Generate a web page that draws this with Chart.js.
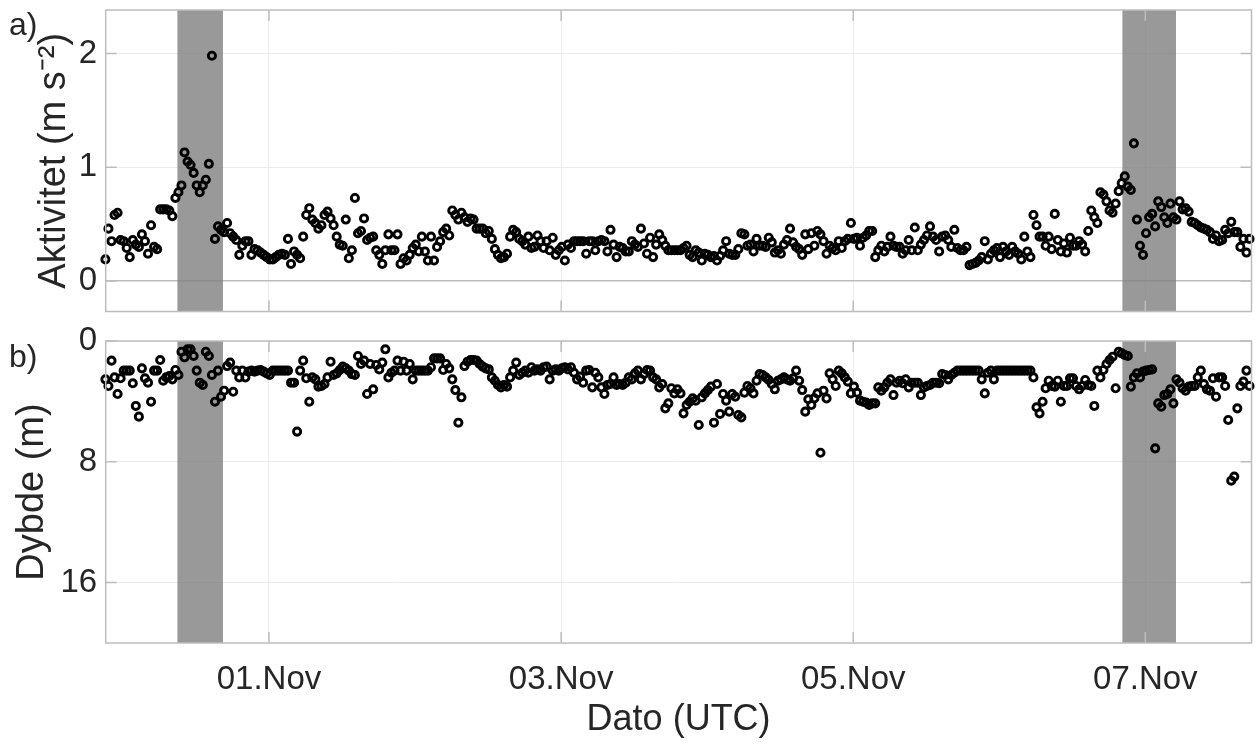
<!DOCTYPE html>
<html>
<head>
<meta charset="utf-8">
<script src="https://cdn.jsdelivr.net/npm/chart.js@4.4.1/dist/chart.umd.min.js"></script>
<style>
  body { margin: 0; background: #fff; }
  #wrap { position: relative; width: 1258px; height: 749px; }
  canvas { position: absolute; left: 0; }
  #cTop { top: 0; }
  #cBot { top: 320px; }
</style>
</head>
<body>
<div id="wrap">
  <canvas id="cTop" width="1258" height="320"></canvas>
  <canvas id="cBot" width="1258" height="429"></canvas>
</div>
<script>
// tid: dag i november (1 = 01.Nov), halvtimesmålinger
const startDag = -0.12;
const stegDag = 1 / 48;

const xTicks = [1, 3, 5, 7];
const xTickLabels = ['01.Nov', '03.Nov', '05.Nov', '07.Nov'];

const aktivitetTicks = [0, 1, 2];
const dybdeTicks = [0, 8, 16];

// grå felt (start, slutt) i dager
const feltStart = [0.373, 6.843];
const feltSlutt = [0.685, 7.21];

// Aktivitet (m s-2)
const aktivitet = [
  0.19,0.46,0.35,0.58,0.60,0.36,0.35,0.29,0.21,0.36,
  0.32,0.30,0.41,0.35,0.24,0.49,0.30,0.28,0.63,0.63,
  0.63,0.62,0.57,0.73,0.78,0.84,1.13,1.05,1.02,0.95,
  0.84,0.78,0.84,0.89,1.03,1.98,0.37,0.48,0.45,0.43,
  0.51,0.42,0.39,0.36,0.23,0.31,0.35,0.35,0.23,0.28,
  0.27,0.25,0.23,0.21,0.19,0.19,0.21,0.23,0.24,0.23,
  0.37,0.15,0.26,0.23,0.20,0.39,0.58,0.64,0.54,0.51,
  0.46,0.49,0.58,0.61,0.55,0.49,0.39,0.32,0.31,0.54,
  0.20,0.27,0.73,0.42,0.44,0.55,0.36,0.38,0.39,0.27,
  0.23,0.15,0.27,0.41,0.27,0.27,0.41,0.15,0.20,0.18,
  0.23,0.29,0.32,0.26,0.39,0.26,0.18,0.39,0.18,0.30,
  0.35,0.43,0.46,0.40,0.62,0.58,0.54,0.60,0.56,0.52,
  0.55,0.54,0.46,0.46,0.46,0.42,0.44,0.37,0.28,0.23,
  0.20,0.21,0.24,0.39,0.45,0.43,0.37,0.35,0.32,0.39,
  0.29,0.30,0.40,0.35,0.29,0.35,0.27,0.38,0.23,0.27,
  0.30,0.18,0.32,0.29,0.35,0.35,0.35,0.35,0.24,0.35,
  0.35,0.27,0.35,0.36,0.35,0.26,0.45,0.32,0.21,0.30,
  0.29,0.26,0.26,0.35,0.32,0.30,0.46,0.33,0.24,0.38,
  0.21,0.32,0.41,0.36,0.31,0.27,0.27,0.27,0.27,0.27,
  0.29,0.31,0.23,0.21,0.27,0.25,0.18,0.24,0.23,0.21,
  0.22,0.18,0.22,0.27,0.35,0.24,0.23,0.23,0.28,0.42,
  0.41,0.31,0.32,0.26,0.37,0.31,0.31,0.30,0.38,0.34,
  0.25,0.27,0.24,0.32,0.36,0.46,0.34,0.30,0.28,0.23,
  0.41,0.28,0.42,0.31,0.44,0.41,0.35,0.24,0.31,0.29,
  0.27,0.35,0.29,0.35,0.37,0.51,0.37,0.38,0.31,0.38,
  0.40,0.44,0.44,0.21,0.27,0.31,0.26,0.30,0.39,0.31,
  0.30,0.30,0.24,0.27,0.36,0.27,0.47,0.27,0.32,0.36,
  0.40,0.48,0.39,0.36,0.26,0.39,0.40,0.36,0.30,0.45,
  0.29,0.27,0.27,0.30,0.14,0.15,0.16,0.18,0.21,0.35,
  0.19,0.24,0.27,0.29,0.21,0.30,0.26,0.23,0.30,0.26,
  0.24,0.19,0.39,0.26,0.21,0.58,0.49,0.39,0.39,0.31,
  0.39,0.28,0.59,0.36,0.26,0.33,0.25,0.38,0.31,0.31,
  0.35,0.32,0.26,0.44,0.62,0.56,0.51,0.78,0.76,0.70,
  0.62,0.60,0.68,0.79,0.86,0.92,0.83,0.80,1.21,0.54,
  0.31,0.23,0.42,0.56,0.59,0.48,0.70,0.65,0.56,0.51,
  0.68,0.56,0.54,0.70,0.63,0.64,0.61,0.52,0.51,0.49,
  0.47,0.46,0.45,0.43,0.37,0.40,0.35,0.36,0.45,0.42,
  0.52,0.43,0.43,0.30,0.37,0.25,0.37
];

// Dybde (m)
const dybde = [
  2.54,2.98,1.30,2.41,3.51,2.47,1.96,1.96,1.96,2.80,
  4.30,5.01,1.81,2.47,2.76,4.02,1.96,1.96,1.26,2.63,
  2.41,2.32,2.54,1.92,2.25,0.71,1.08,0.55,0.55,0.99,
  1.96,2.76,2.91,0.71,0.99,2.25,4.02,1.96,3.69,3.29,
  1.66,1.43,3.36,1.96,2.41,1.96,2.41,2.03,1.96,2.03,
  1.96,1.92,2.03,2.14,2.25,1.96,1.96,1.96,1.96,1.96,
  1.96,2.76,2.76,6.00,1.96,1.30,2.47,4.02,2.41,2.54,
  3.02,2.98,2.85,2.41,1.37,2.25,2.14,1.92,1.70,1.81,
  1.96,2.19,2.25,0.99,1.52,1.30,3.51,1.52,3.20,1.59,
  1.88,1.43,0.55,2.41,2.10,1.96,1.30,1.96,1.37,1.96,
  1.52,2.54,1.96,1.96,1.96,1.96,1.96,1.74,1.15,1.15,
  1.15,1.92,1.52,1.81,2.54,3.25,5.41,3.73,1.66,1.37,
  1.26,1.26,1.30,1.52,1.70,1.81,1.88,2.41,2.63,2.91,
  3.07,2.91,3.02,2.41,1.96,1.43,2.25,2.10,1.96,2.10,
  1.74,1.96,1.88,1.96,1.74,1.70,2.54,1.96,1.88,1.96,
  1.81,1.74,1.88,1.74,2.10,2.54,2.36,2.76,1.96,1.92,
  3.07,2.10,2.41,3.07,3.51,2.91,2.85,2.41,2.91,2.85,
  2.91,2.76,2.41,2.54,2.14,1.96,2.54,2.19,1.92,1.96,
  2.41,2.54,3.07,2.85,4.46,4.13,3.13,3.47,3.20,3.47,
  4.79,4.24,4.02,3.80,3.95,5.56,3.73,3.47,3.25,3.02,
  5.41,2.85,4.83,3.51,3.95,4.68,3.51,3.69,4.90,5.06,
  3.42,2.98,3.13,3.47,2.63,2.19,2.25,2.41,2.58,2.85,
  3.20,2.63,2.54,2.41,2.54,2.63,2.47,1.96,2.63,3.25,
  4.68,3.86,4.24,3.80,3.47,7.40,3.29,3.80,2.14,2.54,
  2.98,1.96,2.14,2.41,2.69,3.47,3.02,3.42,3.95,4.02,
  4.08,4.24,4.13,4.13,3.07,3.29,3.07,2.76,2.54,3.58,
  2.76,2.63,2.80,2.54,3.07,2.76,2.76,2.76,3.58,3.07,
  2.98,2.91,2.76,2.76,2.80,2.19,2.25,2.54,2.25,2.10,
  1.96,1.96,1.96,1.96,1.96,1.96,1.96,1.96,2.54,3.47,
  2.10,1.96,2.54,1.96,1.96,1.96,1.96,1.96,1.96,1.96,
  1.96,1.96,1.96,1.96,1.96,2.41,4.39,4.79,4.02,3.13,
  2.63,2.98,3.02,2.63,4.02,2.98,2.98,2.47,2.47,2.98,
  3.20,2.98,2.58,2.91,2.98,4.30,1.96,2.41,1.92,1.52,
  1.26,1.04,3.13,0.71,0.82,0.93,0.99,3.02,2.41,2.14,
  2.41,2.03,1.96,1.92,1.88,7.11,4.13,4.35,3.58,3.51,
  3.20,4.13,2.54,2.76,3.13,3.29,3.02,2.98,2.98,2.41,
  1.96,2.85,3.20,3.29,2.47,3.69,2.41,2.41,2.98,5.23,
  9.25,8.98,4.46,2.98,2.69,1.96,2.98
];

const tekstFarge = '#262626';
const rammeFarge = '#bdbdbd';
const gridFarge = '#ececec';
const fontFam = '"Liberation Sans", Arial, sans-serif';

const punkter = arr => arr.map((v, i) => ({ x: startDag + i * stegDag, y: v }));

// grå felt bak punktene
const feltPlugin = {
    id: 'felt',
    beforeDatasetsDraw(chart) {
        const { ctx, chartArea: a, scales: { x } } = chart;
        ctx.save();
        ctx.fillStyle = 'rgba(128,128,128,0.8)';
        feltStart.forEach((s, k) => {
            const x0 = x.getPixelForValue(s);
            const x1 = x.getPixelForValue(feltSlutt[k]);
            ctx.fillRect(x0, a.top, x1 - x0, a.bottom - a.top);
        });
        ctx.restore();
    }
};

// ramme med ticks innover, og a)/b)
const rammePlugin = {
    id: 'ramme',
    afterDraw(chart, args, opts) {
        const { ctx, chartArea: a, scales: { x, y } } = chart;
        ctx.save();
        ctx.strokeStyle = rammeFarge;
        ctx.lineWidth = 1.5;
        ctx.strokeRect(a.left, a.top, a.right - a.left, a.bottom - a.top);
        ctx.beginPath();
        xTicks.forEach(v => {
            const px = x.getPixelForValue(v);
            ctx.moveTo(px, a.bottom); ctx.lineTo(px, a.bottom - 11);
            ctx.moveTo(px, a.top); ctx.lineTo(px, a.top + 11);
        });
        opts.yTicks.forEach(v => {
            const py = y.getPixelForValue(v);
            ctx.moveTo(a.left, py); ctx.lineTo(a.left + 11, py);
            ctx.moveTo(a.right, py); ctx.lineTo(a.right - 11, py);
        });
        ctx.stroke();
        ctx.fillStyle = tekstFarge;
        ctx.font = '32px ' + fontFam;
        ctx.textBaseline = 'alphabetic';
        ctx.fillText(opts.label, 9, opts.labelY);
        ctx.restore();
    }
};

function lagGraf(canvasId, data, yTicks, yMin, yMax, reverse, tittel, tittelPad, erBunn) {
    return new Chart(document.getElementById(canvasId), {
        type: 'scatter',
        data: {
            datasets: [{
                data: punkter(data),
                pointRadius: 3.6,
                pointHoverRadius: 3.6,
                borderWidth: 2.9,
                borderColor: '#000',
                backgroundColor: 'rgba(0,0,0,0)',
                clip: false
            }]
        },
        options: {
            responsive: false,
            animation: false,
            layout: { padding: erBunn ? { top: 21, right: 3, bottom: 0, left: 0 } : { top: 10, right: 3, bottom: 8.5, left: 0 } },
            plugins: {
                legend: { display: false },
                tooltip: { enabled: false },
                ramme: { yTicks: yTicks, label: erBunn ? 'b)' : 'a)', labelY: erBunn ? 47 : 35 }
            },
            scales: {
                x: {
                    type: 'linear',
                    min: -0.118,
                    max: 7.727,
                    afterBuildTicks: s => { s.ticks = xTicks.map(v => ({ value: v })); },
                    afterFit: s => {
                        s.height = erBunn ? 106 : 0;
                        s.paddingLeft = 0; s.paddingRight = 0;
                    },
                    border: { display: false },
                    grid: { color: gridFarge, lineWidth: 1, drawTicks: false },
                    ticks: {
                        display: erBunn,
                        autoSkip: false,
                        maxRotation: 0,
                        padding: 17,
                        color: tekstFarge,
                        font: { family: fontFam, size: 33 },
                        callback: v => xTickLabels[xTicks.indexOf(v)]
                    },
                    title: {
                        display: erBunn,
                        text: 'Dato (UTC)',
                        color: tekstFarge,
                        font: { family: fontFam, size: 36 },
                        padding: { top: 0, bottom: 7 }
                    }
                },
                y: {
                    min: yMin,
                    max: yMax,
                    reverse: reverse,
                    afterBuildTicks: s => { s.ticks = yTicks.map(v => ({ value: v })); },
                    afterFit: s => {
                        s.width = 105.7;
                        s.paddingTop = 0; s.paddingBottom = 0;
                    },
                    border: { display: false },
                    grid: {
                        drawTicks: false,
                        lineWidth: c => (c.tick && c.tick.value === 0 && !erBunn) ? 1.5 : 1,
                        color: c => (c.tick && c.tick.value === 0 && !erBunn) ? rammeFarge : gridFarge
                    },
                    ticks: {
                        padding: 8.5,
                        color: tekstFarge,
                        font: { family: fontFam, size: 33 }
                    },
                    title: {
                        display: true,
                        text: tittel,
                        color: tekstFarge,
                        font: { family: fontFam, size: 38 },
                        padding: { top: tittelPad, bottom: 0 }
                    }
                }
            }
        },
        plugins: [feltPlugin, rammePlugin]
    });
}

lagGraf('cTop', aktivitet, aktivitetTicks, -0.268, 2.382, false, 'Aktivitet (m s\u207B\u00B2)', 32, false);
lagGraf('cBot', dybde, dybdeTicks, 0, 20, true, 'Dybde (m)', 10, true);
</script>
</body>
</html>
